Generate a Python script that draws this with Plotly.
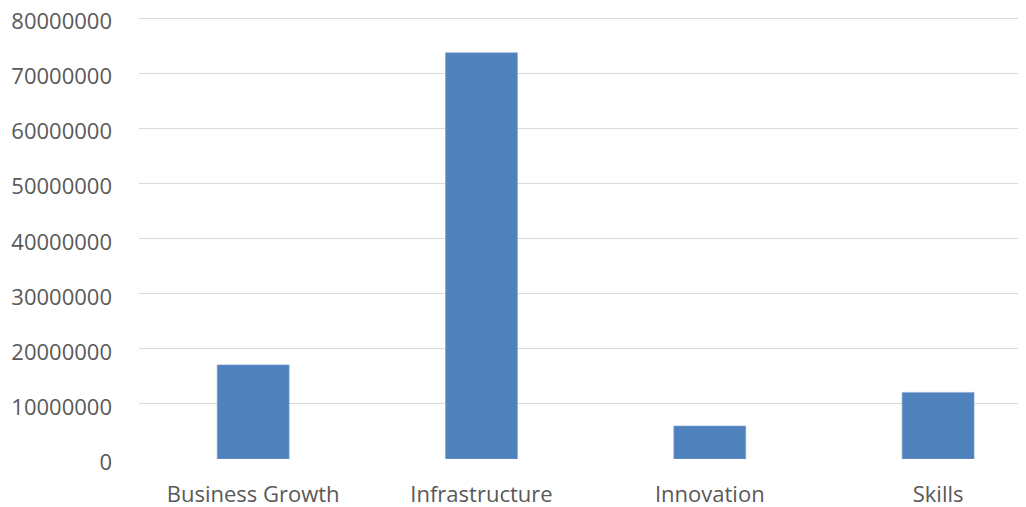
import plotly.graph_objects as go

categories = ["Business Growth", "Infrastructure", "Innovation", "Skills"]
values = [17100000, 73800000, 6000000, 12100000]
y_ticks = [0, 10000000, 20000000, 30000000, 40000000, 50000000, 60000000, 70000000, 80000000]

fig = go.Figure(
    go.Bar(
        x=categories,
        y=values,
        marker=dict(color="#4F81BD", line=dict(color="#7FA3D0", width=0.6)),
        width=0.315,
    )
)

font = dict(family="Open Sans", size=22, color="#595959")

fig.update_layout(
    width=1026,
    height=507,
    margin=dict(l=131, r=8, t=9, b=56),
    plot_bgcolor="white",
    paper_bgcolor="white",
    showlegend=False,
    font=font,
    xaxis=dict(
        range=[-0.5, 3.385],
        showgrid=False,
        showline=False,
        zeroline=False,
        ticks="",
        tickfont=font,
        ticklabelstandoff=20,
        automargin=False,
    ),
    yaxis=dict(
        range=[0, 80300000],
        tickvals=y_ticks,
        tickformat="d",
        showgrid=True,
        gridcolor="#D9D9D9",
        gridwidth=1.3,
        zeroline=False,
        showline=False,
        ticks="",
        tickfont=font,
        ticklabelstandoff=26,
        ticklabelshift=3,
        ticklabeloverflow="allow",
        automargin=False,
    ),
)

fig.write_html("out.html")
